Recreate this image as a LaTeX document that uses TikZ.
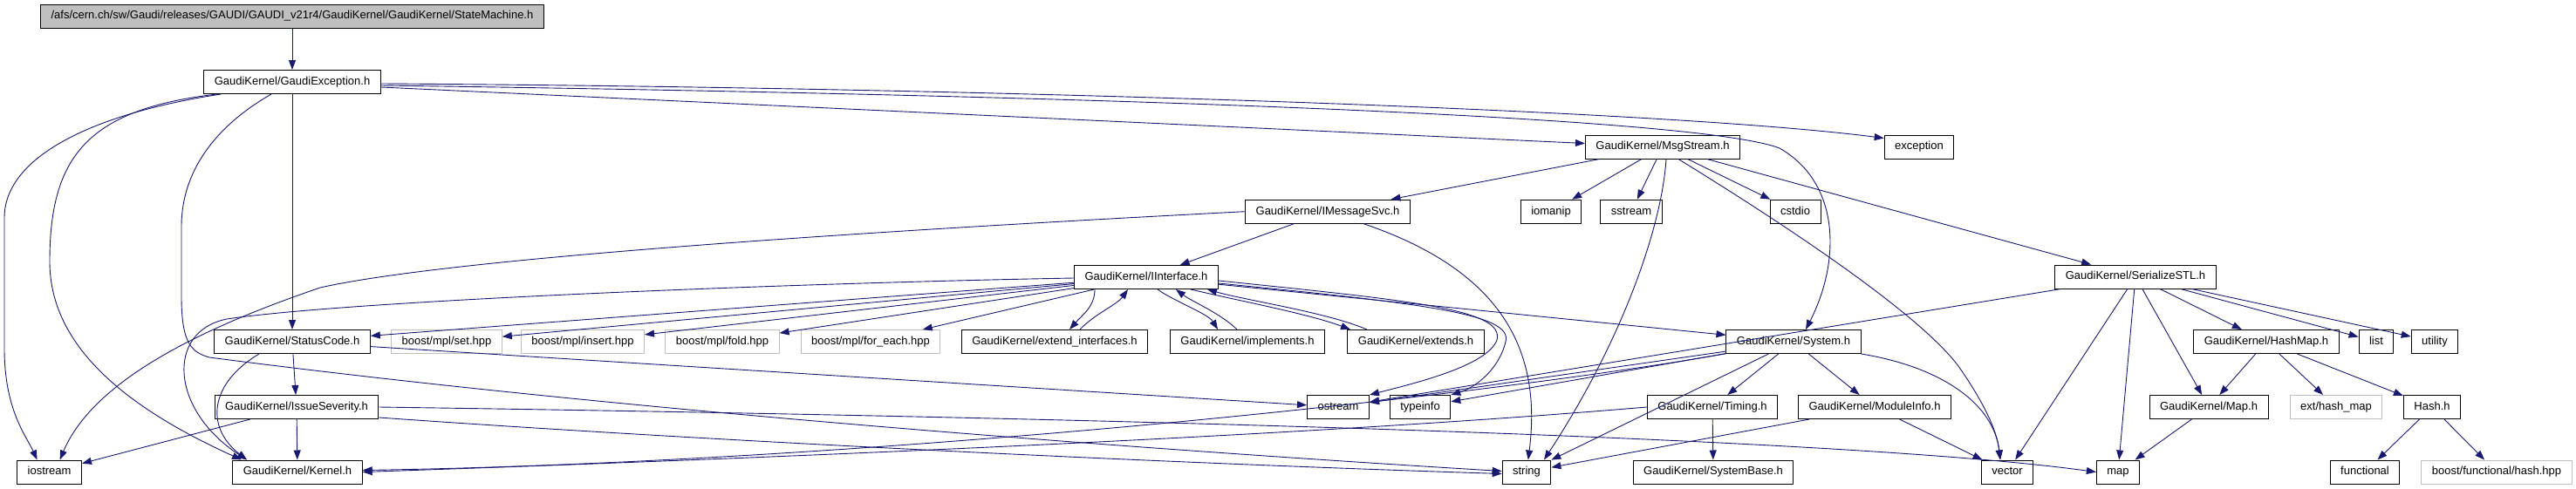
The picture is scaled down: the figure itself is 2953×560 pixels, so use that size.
\documentclass[tikz,border=0pt]{standalone}
\usepackage{fontspec}
\setmainfont{Liberation Sans}
\usetikzlibrary{arrows.meta}
\definecolor{edgeblue}{HTML}{191970}
\definecolor{boxgray}{HTML}{BFBFBF}
\begin{document}
\begin{tikzpicture}[x=1pt,y=-1pt,
  box/.style={draw=black, line width=1pt, fill=white, font=\fontsize{13}{15}\selectfont,
    inner xsep=12pt, inner ysep=0pt, minimum height=27pt, text height=9.5pt, text depth=2.8pt},
  gbox/.style={box, draw=boxgray},
  rootbox/.style={box, fill=boxgray},
  edge/.style={draw=edgeblue, line width=0.9pt, -{Triangle[length=11pt,width=8pt]}},
]
\useasboundingbox (0,0) rectangle (2953,560);
% row 0-1
\node[rootbox] (sm) at (335,18.5) {/afs/cern.ch/sw/Gaudi/releases/GAUDI/GAUDI\_v21r4/GaudiKernel/GaudiKernel/StateMachine.h};
\node[box] (ge) at (335,94) {GaudiKernel/GaudiException.h};
% row 2
\node[box] (ms) at (1906,168.5) {GaudiKernel/MsgStream.h};
\node[box] (exc) at (2200,168.5) {exception};
% row 3
\node[box] (ims) at (1522,242.7) {GaudiKernel/IMessageSvc.h};
\node[box] (iom) at (1778,242.7) {iomanip};
\node[box] (sst) at (1870,242.7) {sstream};
\node[box] (cst) at (2058,242.7) {cstdio};
% row 4
\node[box] (ii) at (1314,318) {GaudiKernel/IInterface.h};
\node[box] (ser) at (2448,317.5) {GaudiKernel/SerializeSTL.h};
% row 5
\node[box] (sc) at (335,392) {GaudiKernel/StatusCode.h};
\node[gbox] (set) at (512,392) {boost/mpl/set.hpp};
\node[gbox] (ins) at (668,392) {boost/mpl/insert.hpp};
\node[gbox] (fold) at (828,392) {boost/mpl/fold.hpp};
\node[gbox] (fe) at (998,392) {boost/mpl/for\_each.hpp};
\node[box] (ei) at (1209,392) {GaudiKernel/extend\_interfaces.h};
\node[box] (impl) at (1430,392) {GaudiKernel/implements.h};
\node[box] (ext) at (1623,392) {GaudiKernel/extends.h};
\node[box] (sys) at (2056,392) {GaudiKernel/System.h};
\node[box] (hm) at (2598,392) {GaudiKernel/HashMap.h};
\node[box] (lst) at (2724,392) {list};
\node[box] (util) at (2791,392) {utility};
% row 6
\node[box] (is) at (340,467) {GaudiKernel/IssueSeverity.h};
\node[box] (ost) at (1534,467) {ostream};
\node[box] (ti) at (1628,467) {typeinfo};
\node[box] (tim) at (1963,467) {GaudiKernel/Timing.h};
\node[box] (mi) at (2149,467) {GaudiKernel/ModuleInfo.h};
\node[box] (maph) at (2532,467) {GaudiKernel/Map.h};
\node[gbox] (ehm) at (2678,467) {ext/hash\_map};
\node[box] (hash) at (2788,467) {Hash.h};
% row 7
\node[box] (ios) at (56.6,541.5) {iostream};
\node[box] (ker) at (341,541.5) {GaudiKernel/Kernel.h};
\node[box] (str) at (1750,541.5) {string};
\node[box] (sb) at (1964,541.5) {GaudiKernel/SystemBase.h};
\node[box] (vec) at (2301,541.5) {vector};
\node[box] (map) at (2428,541.5) {map};
\node[box] (fun) at (2711,541.5) {functional};
\node[gbox] (bfh) at (2862,541.5) {boost/functional/hash.hpp};

% edges
\draw[edge] (sm) -- (ge);
% GaudiException
\draw[edge] ([xshift=20pt]ge.south west) .. controls (120,128) and (5,175) .. (5,250) -- (5,400) .. controls (5,470) and (30,500) .. ([xshift=-14pt]ios.north);
\draw[edge] ([xshift=16pt]ge.south west) .. controls (100,125) and (57,180) .. (57,300) .. controls (57,400) and (150,470) .. ([xshift=-64pt]ker.north);
\draw[edge] ([xshift=-24pt]ge.south) .. controls (255,140) and (208,190) .. (208,260) -- (208,340) .. controls (208,395) and (220,404) .. (240,410) .. controls (700,470) and (1300,515) .. ([yshift=1pt]str.west);
\draw[edge] (ge) -- (sc);
\draw[edge] ([yshift=-6pt]ge.east) -- ([yshift=4pt]ms.west);
\draw[edge] ([yshift=-2pt]ge.east) .. controls (1100,100) and (1900,125) .. ([yshift=10pt]exc.west);
\draw[edge] ([yshift=-4pt]ge.east) .. controls (1300,110) and (1950,135) .. (2040,170) .. controls (2110,210) and (2110,300) .. ([xshift=14pt]sys.north);
% MsgStream
\draw[edge] (ms) -- (ims);
\draw[edge] (ms) -- (iom);
\draw[edge] (ms) -- (sst);
\draw[edge] (ms) -- (cst);
\draw[edge] (ms) -- (ser);
\draw[edge] ([xshift=4pt]ms.south) .. controls (1905,260) and (1860,390) .. ([xshift=20pt]str.north);
\draw[edge] ([xshift=18pt]ms.south) .. controls (2050,260) and (2200,360) .. (2245,420) .. controls (2280,470) and (2290,500) .. ([xshift=-8pt]vec.north);
% IMessageSvc
\draw[edge] (ims) -- (ii);
\draw[edge] (ims) .. controls (1720,310) and (1768,400) .. (str);
\draw[edge] (ims.west) .. controls (900,270) and (500,300) .. (367,330) .. controls (250,370) and (110,430) .. ([xshift=12pt]ios.north);
% IInterface
\draw[edge] (ii) -- (sc);
\draw[edge] (ii) -- (set);
\draw[edge] (ii) -- (ins);
\draw[edge] (ii) -- (fold);
\draw[edge] (ii) -- (fe);
\draw[edge] ([yshift=-1pt]ii.west) .. controls (900,325) and (400,345) .. (260,366) .. controls (190,380) and (195,470) .. ([xshift=-58pt]ker.north);
\draw[edge] (ii) -- (sys);
\draw[edge] ([yshift=-4pt]ii.east) .. controls (1620,345) and (1725,355) .. (1716,390) .. controls (1705,420) and (1620,440) .. (ost.north east);
\draw[edge] ([yshift=-7pt]ii.east) .. controls (1630,348) and (1735,360) .. (1726,392) .. controls (1718,425) and (1690,445) .. (ti.north east);
\draw[edge] ([xshift=24pt]ii.south west) .. controls (1255,352) and (1240,362) .. ([xshift=17pt]ei.north);
\draw[edge] ([xshift=29pt]ei.north) .. controls (1255,360) and (1280,350) .. ([xshift=-21pt]ii.south);
\draw[edge] ([xshift=13pt]ii.south) .. controls (1345,345) and (1385,360) .. ([xshift=-34pt]impl.north);
\draw[edge] ([xshift=-12pt]impl.north) .. controls (1400,360) and (1365,345) .. ([xshift=34pt]ii.south);
\draw[edge] ([xshift=51pt]ii.south) .. controls (1420,345) and (1500,360) .. ([xshift=-75pt]ext.north);
\draw[edge] ([xshift=-56pt]ext.north) .. controls (1520,358) and (1430,345) .. ([xshift=70pt]ii.south);
% StatusCode
\draw[edge] (sc) -- (is);
\draw[edge] ([xshift=-38pt]sc.south) .. controls (240,440) and (235,490) .. ([xshift=-58pt]ker.north);
\draw[edge] (sc) -- (ost);
% IssueSeverity
\draw[edge] (is) -- (ker);
\draw[edge] (is) -- (ios);
\draw[edge] ([yshift=2pt]is.south east) .. controls (800,505) and (1300,530) .. ([yshift=-2pt]str.west);
\draw[edge] (is.east) .. controls (1200,478) and (2100,500) .. (map.west);
% System
\draw[edge] (sys) -- (ost);
\draw[edge] (sys) -- (ti);
\draw[edge] (sys) -- (str);
\draw[edge] (sys) .. controls (1700,455) and (1000,530) .. ([yshift=2pt]ker.east);
\draw[edge] (sys) -- (tim);
\draw[edge] (sys) -- (mi);
\draw[edge] (sys.south east) .. controls (2220,420) and (2285,460) .. ([xshift=-8pt]vec.north);
% Timing
\draw[edge] (tim) -- (sb);
\draw[edge] (tim.west) .. controls (1500,500) and (900,525) .. (ker.east);
% ModuleInfo
\draw[edge] (mi) -- (str);
\draw[edge] (mi) -- (vec);
% SerializeSTL
\draw[edge] (ser) -- (ost);
\draw[edge] (ser) -- (vec);
\draw[edge] (ser) -- (map);
\draw[edge] (ser) -- (maph);
\draw[edge] (ser) -- (hm);
\draw[edge] (ser) -- (lst);
\draw[edge] (ser) -- (util);
% HashMap, Map, Hash
\draw[edge] (hm) -- (maph);
\draw[edge] (hm) -- (ehm);
\draw[edge] (hm) -- (hash);
\draw[edge] (maph) -- (map);
\draw[edge] (hash) -- (fun);
\draw[edge] (hash) -- (bfh);
\end{tikzpicture}
\end{document}
